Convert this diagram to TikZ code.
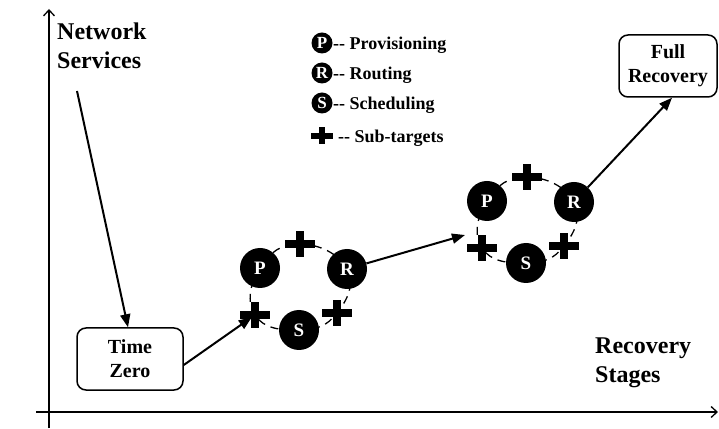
\documentclass[tikz,border=0pt]{standalone}
\usepackage{fontspec}
\setmainfont{Liberation Serif}
\usetikzlibrary{arrows.meta,calc}

\begin{document}
\begin{tikzpicture}[x=1pt,y=1pt,
  axis/.style={line width=1.5pt,-{Straight Barb[length=6pt,width=11pt,line width=1.3pt]}},
  flow/.style={line width=2pt,-{Triangle[length=13pt,width=10pt]}},
  stagebox/.style={draw,line width=1.5pt,rounded corners=9pt,align=center,inner sep=0pt,
    font=\fontsize{20}{24}\selectfont\bfseries},
  bigtitle/.style={align=left,inner sep=0pt,font=\fontsize{24}{29}\selectfont\bfseries},
  task/.style={circle,fill=black,text=white,minimum size=40pt,inner sep=0pt,
    font=\fontsize{19}{19}\selectfont\bfseries},
  keytask/.style={circle,fill=black,text=white,minimum size=21pt,inner sep=0pt,
    font=\fontsize{17}{17}\selectfont\bfseries},
  keytext/.style={anchor=base west,inner sep=0pt,font=\fontsize{18}{18}\selectfont\bfseries},
  ring/.style={line width=1.3pt,dash pattern=on 8pt off 6pt},
  crossbar/.style n args={3}{minimum width=#1,minimum height=#2,inner sep=0pt,
    path picture={
      \fill ([yshift=-#3/2]path picture bounding box.west) rectangle ([yshift=#3/2]path picture bounding box.east);
      \fill ([xshift=-#3/2]path picture bounding box.south) rectangle ([xshift=#3/2]path picture bounding box.north);}},
  subtarget/.style={crossbar={30pt}{26pt}{8.5pt}},
  keycross/.style={crossbar={22pt}{17pt}{6pt}}
]
\useasboundingbox (0,0) rectangle (719,428);

% axes
\coordinate (yaxis-bottom) at (49,0);
\coordinate (yaxis-top) at (49,419);
\coordinate (xaxis-left) at (36,16);
\coordinate (xaxis-right) at (718,16);
\draw[axis] (yaxis-bottom) -- (yaxis-top);
\draw[axis] (xaxis-left) -- (xaxis-right);

% axis titles
\node[bigtitle,anchor=west] (NS) at (57,382) {Network\\Services};
\node[bigtitle,anchor=west] (RS) at (595,65) {Recovery\\Stages};

% legend
\node[keytask] (kP) at (322,385) {P};
\node[keytask] (kR) at (322,355) {R};
\node[keytask] (kS) at (322,325) {S};
\node[keycross] (kX) at (322,292) {};
\node[keytext] (tP) at (333,378.5) {-{}- Provisioning};
\node[keytext] (tR) at (333,348.5) {-{}- Routing};
\node[keytext] (tS) at (333,318.5) {-{}- Scheduling};
\node[keytext] (tX) at (338,285.5) {-{}- Sub-targets};

% start and end states
\node[stagebox,minimum width=106pt,minimum height=62pt] (TZ) at (130,69) {Time\\Zero};
\node[stagebox,minimum width=98pt,minimum height=62pt] (FR) at (668,362) {Full\\Recovery};

% first recovery stage
\begin{scope}[shift={(301,139)}]
  \draw[ring] plot[smooth cycle,tension=0.8] coordinates {(-41,21) (-1,45) (46,20) (36,-24) (-2,-41) (-46,-26)};
  \node[task] (P1) at (-41,21) {P};
  \node[subtarget] (T1) at (-1,45) {};
  \node[task] (R1) at (46,20) {R};
  \node[subtarget] (RP1) at (36,-24) {};
  \node[task] (S1) at (-2,-41) {S};
  \node[subtarget] (LP1) at (-46,-26) {};
\end{scope}

% second recovery stage
\begin{scope}[shift={(528,206)}]
  \draw[ring] plot[smooth cycle,tension=0.8] coordinates {(-41,21) (-1,45) (46,20) (36,-24) (-2,-41) (-46,-26)};
  \node[task] (P2) at (-41,21) {P};
  \node[subtarget] (T2) at (-1,45) {};
  \node[task] (R2) at (46,20) {R};
  \node[subtarget] (RP2) at (36,-24) {};
  \node[task] (S2) at (-2,-41) {S};
  \node[subtarget] (LP2) at (-46,-26) {};
\end{scope}

% progression arrows
\coordinate (ns-out) at (77,337);
\coordinate (in2) at (465,193);
\draw[flow] (ns-out) -- ([xshift=-2pt]TZ.north);
\draw[flow,shorten >=4pt] ([yshift=-6pt]TZ.east) -- (LP1.center);
\draw[flow] (R1) -- (in2);
\draw[flow] (R2) -- ([xshift=4pt]FR.south);
\end{tikzpicture}
\end{document}
